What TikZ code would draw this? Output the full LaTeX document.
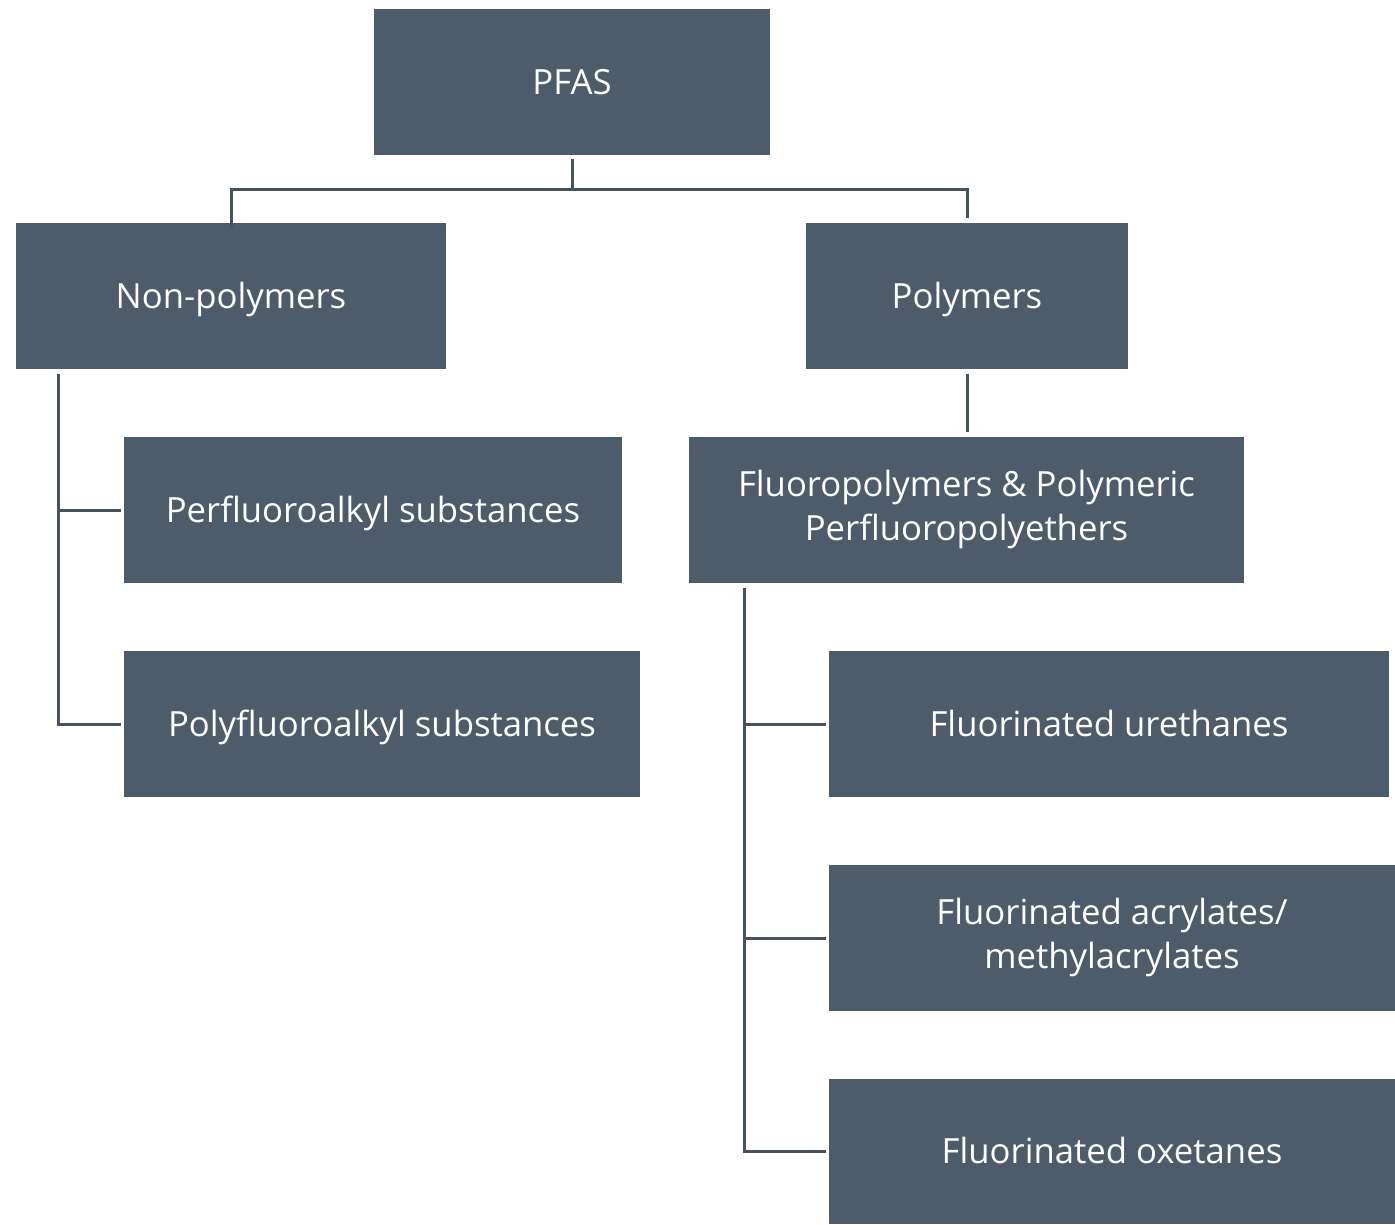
\documentclass[tikz,border=0pt]{standalone}
\usepackage{fontspec}
\setmainfont{Open Sans}
\definecolor{boxfill}{HTML}{4E5B6B}
\definecolor{linecol}{HTML}{46525F}
\begin{document}
\begin{tikzpicture}[x=1pt,y=-1pt,
  box/.style={fill=boxfill,text=white,inner sep=0pt,align=center,
    font=\fontsize{34.7}{44}\selectfont,
    execute at begin node={\rule{0pt}{34pt}},
    execute at end node={\rule[-10pt]{0pt}{10pt}}},
  conn/.style={draw=linecol,line width=3pt}]
\useasboundingbox (0,0) rectangle (1395,1224);
\newcommand{\bx}[6]{\node[box,minimum width={#4-#2},minimum height={#5-#3}] (#1) at ({(#2+#4)/2},{(#3+#5)/2}) {#6};}
\bx{pfas}{374}{9}{770}{155}{PFAS}
\bx{nonpoly}{16}{223}{446}{369}{Non-polymers}
\bx{poly}{806}{223}{1128}{369}{Polymers}
\bx{perf}{124}{437}{622}{583}{Perfluoroalkyl substances}
\bx{polyf}{124}{651}{640}{797}{Polyfluoroalkyl substances}
\bx{fluoro}{689}{437}{1244}{583}{Fluoropolymers \& Polymeric\\Perfluoropolyethers}
\bx{ureth}{829}{651}{1389}{797}{Fluorinated urethanes}
\bx{acryl}{829}{865}{1395}{1011}{Fluorinated acrylates/\\methylacrylates}
\bx{oxet}{829}{1079}{1395}{1224}{Fluorinated oxetanes}
% connectors
\coordinate (j0) at (572,189);
\coordinate (jr) at (967,189);
\draw[conn] ([yshift=-4pt]pfas.south) -- (j0);
\draw[conn] ([yshift=-5pt]nonpoly.north) |- (jr) -- ([yshift=5pt]poly.north);
\coordinate (nl) at (58,374);
\coordinate (nb) at (58,724);
\draw[conn] (nl) -- (nb) -- ([xshift=-3pt]polyf.west);
\draw[conn] (58,510) -- ([xshift=-3pt]perf.west);
\draw[conn] ([yshift=-5pt]poly.south) -- ([yshift=5pt]poly.south |- fluoro.north);
\coordinate (ft) at (744,588);
\coordinate (fb) at (744,1151.5);
\draw[conn] (ft) -- (fb) -- ([xshift=-3pt]oxet.west);
\draw[conn] (744,724) -- ([xshift=-3pt]ureth.west);
\draw[conn] (744,938) -- ([xshift=-3pt]acryl.west);
\end{tikzpicture}
\end{document}
